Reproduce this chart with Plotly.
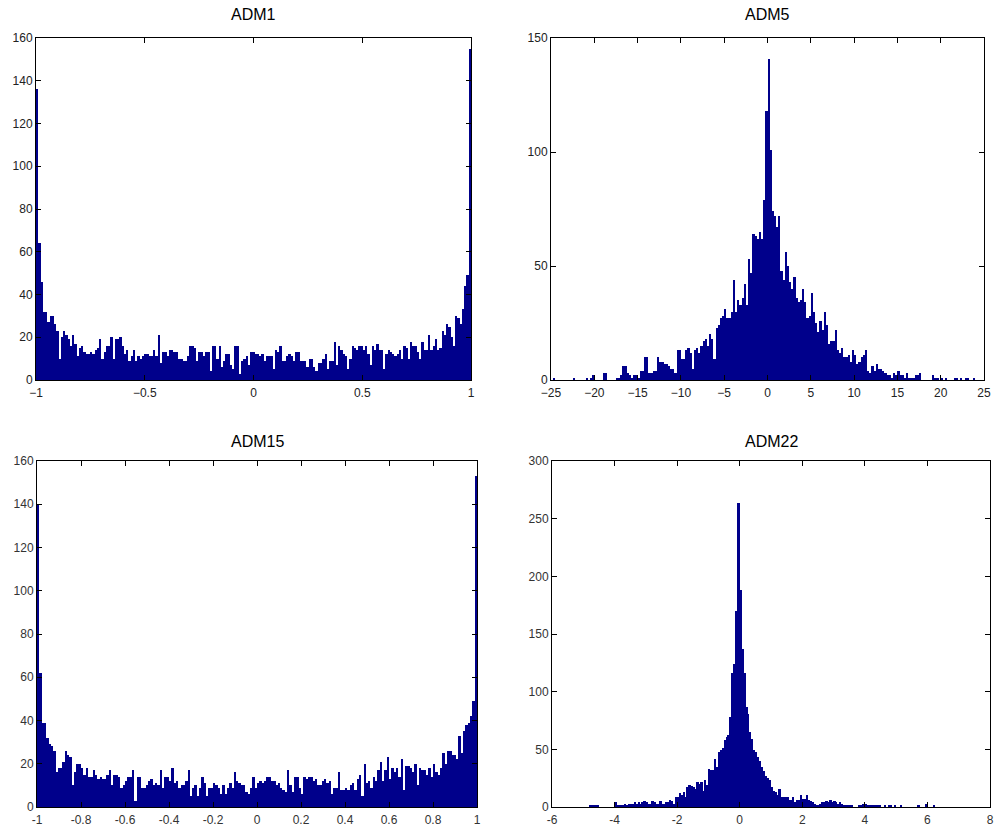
import plotly.graph_objects as go

# ---------------- data ----------------
# ADM1 histogram (bins evenly spread from -1 to 1)
adm1_range = (-1.0, 1.0)
adm1_counts = [
    136, 64, 46, 32, 32, 27, 30, 30, 26, 23, 10, 20, 23, 21, 19, 16, 21, 17, 11, 15,
    16, 13, 12, 12, 13, 12, 14, 15, 19, 10, 13, 16, 16, 20, 10, 19, 19, 20, 16, 12,
    14, 9, 11, 14, 9, 11, 10, 11, 12, 12, 11, 11, 14, 11, 21, 8, 13, 13, 11,
    14, 14, 13, 13, 10, 10, 9, 9, 11, 16, 16, 15, 9, 13, 13, 11, 13, 13, 4, 16,
    16, 10, 16, 6, 9, 12, 12, 7, 5, 16, 16, 3, 9, 10, 11, 7, 13, 13, 12, 12,
    11, 12, 9, 11, 11, 11, 5, 14, 13, 16, 9, 9, 11, 12, 11, 9, 13, 13, 9, 9,
    9, 6, 10, 10, 6, 4, 8, 8, 10, 12, 5,
    9, 9, 18, 7, 16, 14, 12, 11, 5, 10, 16, 15, 14, 16, 16, 14, 16, 12, 7, 16,
    14, 17, 14, 14, 5, 12, 14, 13, 12, 11, 12, 14, 10, 16, 15, 10, 18, 16, 16, 13,
    10, 18, 14, 14, 21, 14, 16, 19, 14, 15, 23, 21, 26, 25, 20, 16, 30, 29, 26, 33,
    44, 49, 155,
]

# ADM5 histogram (bins evenly spread from -25 to 25)
adm5_range = (-25.0, 25.0)
adm5_counts = [
    0, 1, 0, 0, 0, 0, 0, 0, 0, 0, 1, 0, 0, 0, 0, 0, 1, 0, 1, 2,
    0, 0, 0, 0, 3, 3, 0, 0, 0, 0, 1, 1, 2, 6, 6, 3, 2, 1, 2, 2,
    1, 4, 4, 10, 10, 3, 3, 4, 4, 10, 8, 8, 7, 7, 6, 5, 5, 3, 13, 13,
    9, 9, 13, 14, 12, 5, 13, 14, 12, 15, 17, 18, 15, 20, 18, 9, 23, 24, 27, 28,
    31, 27, 27, 30, 44, 30, 35, 33, 36, 42, 33, 53, 47, 64, 63, 62, 65, 62, 79, 118,
    141, 101, 74, 72, 67, 72, 48, 44, 56, 50, 43, 40, 45, 36, 34, 35, 40, 34, 27, 28,
    38, 30, 25, 21, 26, 22, 30, 24, 16, 17, 17, 22, 13, 12, 14, 10, 10, 11, 8, 13,
    11, 7, 8, 10, 11, 13, 4, 3, 6, 4, 7, 5, 5, 4, 3, 2, 2, 1, 3, 2,
    4, 2, 2, 1, 3, 1, 1, 1, 2, 2, 3, 0, 0, 0, 0, 0, 2, 1, 1, 0,
    1, 0, 1, 0, 0, 0, 1, 1, 0, 1, 0, 1, 1, 0, 0, 1, 0, 0, 0, 0,
]

# ADM15 histogram (bins evenly spread from -1 to 1)
adm15_range = (-1.0, 1.0)
adm15_counts = [
    140, 62, 39, 39, 32, 29, 28, 26, 16, 18, 18, 21, 26, 24, 23, 10, 16, 20, 20, 18,
    15, 18, 14, 14, 17, 15, 13, 14, 13, 13, 15, 17, 10, 15, 15, 14, 9, 10, 12, 14,
    14, 17, 3, 14, 14, 9, 9, 10, 12, 13, 10, 11, 10, 17, 9, 14, 14, 12, 18,
    11, 12, 9, 10, 10, 12, 17, 5, 9, 10, 5, 9, 14, 11, 5, 9, 9, 11, 10, 9,
    6, 10, 6, 9, 11, 9, 16, 12, 11, 10, 10, 7, 6, 9, 14, 9, 11, 12, 11, 12,
    14, 14, 12, 12, 10, 11, 9, 8, 7, 17, 10, 7, 14, 14, 9, 6, 14, 13, 14, 14,
    12, 13, 10, 10, 12, 13, 11, 12,
    6, 9, 9, 16, 8, 8, 9, 8, 10, 11, 8, 13, 15, 5, 20, 11, 12, 9, 14, 12,
    17, 21, 12, 17, 23, 13, 18, 16, 18, 14, 22, 8, 19, 19, 18, 16, 20, 10, 18, 17,
    17, 15, 18, 14, 20, 16, 15, 18, 25, 20, 26, 26, 24, 24, 22, 33, 25, 35, 38, 39,
    42, 49, 153,
]

# ADM22 histogram (bins of equal width starting at -6)
adm22_start = -6.0
adm22_width = 0.0625
adm22_counts = [
    0, 0, 0, 0, 0, 0, 0, 0, 0, 0, 0, 0, 0, 0, 0, 0, 0, 0, 0, 2,
    2, 2, 2, 2, 0, 0, 0, 0, 0, 0, 0, 0, 4, 2, 2, 1, 2, 3, 2, 3,
    3, 3, 4, 3, 4, 3, 4, 5, 4, 3, 3, 5, 4, 3, 3, 5, 3, 3, 4, 4,
    6, 5, 3, 9, 9, 12, 10, 13, 9, 17, 19, 18, 17, 16, 22, 20, 22, 14, 23, 19,
    33, 32, 32, 42, 35, 48, 49, 51, 58, 61, 62, 78, 116, 124, 170, 264, 188, 137, 116, 87,
    81, 65, 59, 49, 48, 43, 40, 35, 31, 27, 25, 23, 17, 14, 13, 10, 16, 9, 9, 9,
    9, 6, 6, 9, 4, 6, 6, 10, 7, 7, 10, 6, 5, 4, 3, 2, 2, 3, 4, 4,
    5, 4, 6, 4, 5, 4, 3, 4, 3, 2, 2, 2, 2, 1, 0, 0, 0, 2, 1, 3,
    3, 2, 2, 2, 2, 2, 2, 2, 0, 0, 1, 0, 2, 2, 0, 2, 0, 0, 2, 0,
    0, 0, 0, 0, 0, 0, 0, 2, 0, 0, 0, 3, 0, 0, 0, 2,
]

titles = ["ADM1", "ADM5", "ADM15", "ADM22"]

adm1_xticks = [-1, -0.5, 0, 0.5, 1]
adm1_xlabels = ["\u22121", "\u22120.5", "0", "0.5", "1"]
adm1_yticks = [0, 20, 40, 60, 80, 100, 120, 140, 160]

adm5_xticks = [-25, -20, -15, -10, -5, 0, 5, 10, 15, 20, 25]
adm5_xlabels = ["\u221225", "\u221220", "\u221215", "\u221210", "\u22125", "0", "5", "10", "15", "20", "25"]
adm5_yticks = [0, 50, 100, 150]

adm15_xticks = [-1, -0.8, -0.6, -0.4, -0.2, 0, 0.2, 0.4, 0.6, 0.8, 1]
adm15_xlabels = ["-1", "-0.8", "-0.6", "-0.4", "-0.2", "0", "0.2", "0.4", "0.6", "0.8", "1"]
adm15_yticks = [0, 20, 40, 60, 80, 100, 120, 140, 160]

adm22_xticks = [-6, -4, -2, 0, 2, 4, 6, 8]
adm22_xlabels = ["-6", "-4", "-2", "0", "2", "4", "6", "8"]
adm22_yticks = [0, 50, 100, 150, 200, 250, 300]

# ---------------- layout helpers ----------------
W, H = 997, 829
BAR_COLOR = "#00008B"
FONT = "Liberation Sans, Arial, Helvetica, sans-serif"


def xdom(left, right):
    return [left / W, right / W]


def ydom(top, bottom):
    return [1 - bottom / H, 1 - top / H]


panels = [
    dict(counts=adm1_counts, x0=adm1_range[0], dx=(adm1_range[1] - adm1_range[0]) / len(adm1_counts),
         xr=[-1, 1], yr=[0, 160], xt=adm1_xticks, xl=adm1_xlabels, yt=adm1_yticks,
         box=(36, 471, 38, 380), tcol="#222222", title_y=15),
    dict(counts=adm5_counts, x0=adm5_range[0], dx=(adm5_range[1] - adm5_range[0]) / len(adm5_counts),
         xr=[-25, 25], yr=[0, 150], xt=adm5_xticks, xl=adm5_xlabels, yt=adm5_yticks,
         box=(551, 984, 38, 380), tcol="#222222", title_y=15),
    dict(counts=adm15_counts, x0=adm15_range[0], dx=(adm15_range[1] - adm15_range[0]) / len(adm15_counts),
         xr=[-1, 1], yr=[0, 160], xt=adm15_xticks, xl=adm15_xlabels, yt=adm15_yticks,
         box=(37, 477, 461, 807), tcol="#333333", title_y=441),
    dict(counts=adm22_counts, x0=adm22_start, dx=adm22_width,
         xr=[-6, 8], yr=[0, 300], xt=adm22_xticks, xl=adm22_xlabels, yt=adm22_yticks,
         box=(552, 990, 461, 807), tcol="#333333", title_y=441),
]

fig = go.Figure()
layout = dict(
    width=W, height=H, autosize=False,
    margin=dict(l=0, r=0, t=0, b=0, autoexpand=False),
    paper_bgcolor="white", plot_bgcolor="white",
    showlegend=False, bargap=0, barmode="overlay",
    font=dict(family=FONT, size=12, color="#222222"),
    annotations=[],
)

for k, p in enumerate(panels):
    n = "" if k == 0 else str(k + 1)
    xa, ya = "x" + n, "y" + n
    fig.add_trace(go.Bar(
        x0=p["x0"] + p["dx"] / 2, dx=p["dx"], y=p["counts"],
        marker=dict(color=BAR_COLOR, line=dict(width=0)),
        xaxis=xa, yaxis=ya, hoverinfo="x+y",
    ))
    left, right, top, bottom = p["box"]
    common = dict(showline=True, linecolor="black", linewidth=1, mirror="ticks",
                  ticks="inside", ticklen=5, tickcolor="black", showgrid=False,
                  zeroline=False, automargin=False,
                  tickfont=dict(family=FONT, size=12, color=p["tcol"]))
    layout["xaxis" + n] = dict(common, domain=xdom(left, right), range=p["xr"], anchor=ya,
                               tickmode="array", tickvals=p["xt"], ticktext=p["xl"],
                               ticklabelstandoff=2)
    layout["yaxis" + n] = dict(common, domain=ydom(top, bottom), range=p["yr"], anchor=xa,
                               tickmode="array", tickvals=p["yt"],
                               ticktext=[str(v) for v in p["yt"]])
    layout["annotations"].append(dict(
        text=titles[k], xref="paper", yref="paper",
        x=(left + right) / 2 / W, y=1 - p["title_y"] / H,
        xanchor="center", yanchor="middle", showarrow=False,
        font=dict(family=FONT, size=16, color="black"),
    ))

fig.update_layout(**layout)
fig.write_html(
    "out.html",
    config={"displayModeBar": False},
    post_script="document.body.style.margin='0';document.body.style.overflow='hidden';",
)
